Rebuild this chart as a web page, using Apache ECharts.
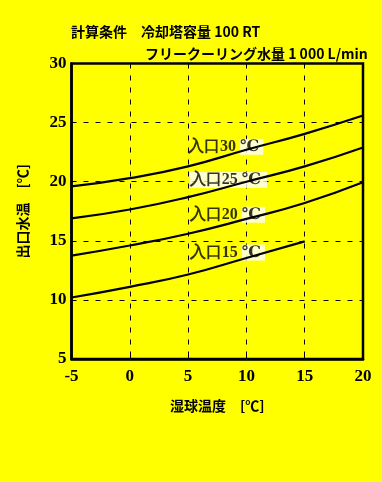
<!DOCTYPE html>
<html><head><meta charset="utf-8">
<script src="https://cdn.jsdelivr.net/npm/echarts@6/dist/echarts.min.js"></script>
<style>html,body{margin:0;padding:0;background:#ffff00;}#c{width:382px;height:482px;}</style>
</head><body><div id="c"></div>
<script>
const xValues = [-5, 0, 5, 10, 15, 20];
const inlet30 = [19.6, 20.3, 21.3, 22.7, 24.05, 25.6];
const inlet25 = [16.9, 17.65, 18.7, 20.0, 21.3, 22.9];
const inlet20 = [13.75, 14.6, 15.6, 16.85, 18.2, 19.95];
const inlet15 = [10.2, 11.1, 12.15, 13.55, 14.95];
const labelNames = ['入口30', '入口25', '入口20', '入口15'];
const labelX = [5.0, 5.15, 5.15, 5.15];
const labelY = [22.95, 20.15, 17.2, 14.0];
const titleLine1 = '計算条件　冷却塔容量 100 RT';
const titleLine2 = 'フリークーリング水量 1 000 L/min';

const serif = '"Liberation Serif","DejaVu Serif",serif';
const cjk = '"Noto Sans CJK JP",sans-serif';
function pairs(ys){ return ys.map((y,i)=>[xValues[i], y]); }
function lineSeries(ys){
  return {type:'line', data:pairs(ys), smooth:true, symbol:'none',
    lineStyle:{color:'#000', width:2.2}, silent:true};
}
const chart = echarts.init(document.getElementById('c'));
chart.setOption({
  backgroundColor:'#ffff00',
  animation:false,
  title:[
    {text:titleLine1, left:66, top:20, textStyle:{fontFamily:cjk, fontSize:14, fontWeight:'bold', color:'#000'}},
    {text:titleLine2, left:140, top:42, textStyle:{fontFamily:cjk, fontSize:14, fontWeight:'bold', color:'#000'}}
  ],
  grid:{left:71.5, right:19, top:63.5, bottom:123, show:true, borderColor:'#000', borderWidth:2.5, backgroundColor:'transparent'},
  xAxis:{type:'value', min:-5, max:20, interval:5,
    name:'湿球温度　[℃]', nameLocation:'middle', nameGap:40,
    nameTextStyle:{fontFamily:cjk, fontSize:14, fontWeight:'bold', color:'#000'},
    axisLine:{show:true, onZero:false, lineStyle:{color:'#000', width:2.5}},
    axisTick:{show:true, inside:true, length:4, lineStyle:{color:'#000'}},
    axisLabel:{fontFamily:serif, fontSize:17, fontWeight:'bold', color:'#000', margin:9},
    splitLine:{show:true, lineStyle:{color:'#000', type:[5,7], width:1}}},
  yAxis:{type:'value', min:5, max:30, interval:5,
    name:'出口水温　[℃]', nameLocation:'middle', nameGap:42,
    nameTextStyle:{fontFamily:cjk, fontSize:14, fontWeight:'bold', color:'#000'},
    axisLine:{show:true, onZero:false, lineStyle:{color:'#000', width:2.5}},
    axisTick:{show:false},
    axisLabel:{fontFamily:serif, fontSize:17, fontWeight:'bold', color:'#000', margin:5},
    splitLine:{show:true, lineStyle:{color:'#000', type:[5,7], width:1}}},
  series:[
    lineSeries(inlet30), lineSeries(inlet25), lineSeries(inlet20), lineSeries(inlet15),
    {type:'scatter', symbolSize:0, silent:true,
      data:labelNames.map((n,i)=>({value:[labelX[i], labelY[i]], name:n})),
      label:{show:true, position:'right', distance:0,
        formatter:(p)=> p.dataIndex===1 ? '{w|'+p.name+' ℃}' : '{a|'+p.name+' }{b|℃}',
        rich:{
          a:{fontFamily:serif, fontSize:16, color:'#000', fontWeight:'bold'},
          b:{fontFamily:serif, fontSize:16, color:'#000', fontWeight:'bold', backgroundColor:'#fff', padding:[0,4,0,0]},
          w:{fontFamily:serif, fontSize:16, color:'#000', fontWeight:'bold', backgroundColor:'#fff', padding:[0,6,0,0]}
        }}}
  ]
});
</script></body></html>
